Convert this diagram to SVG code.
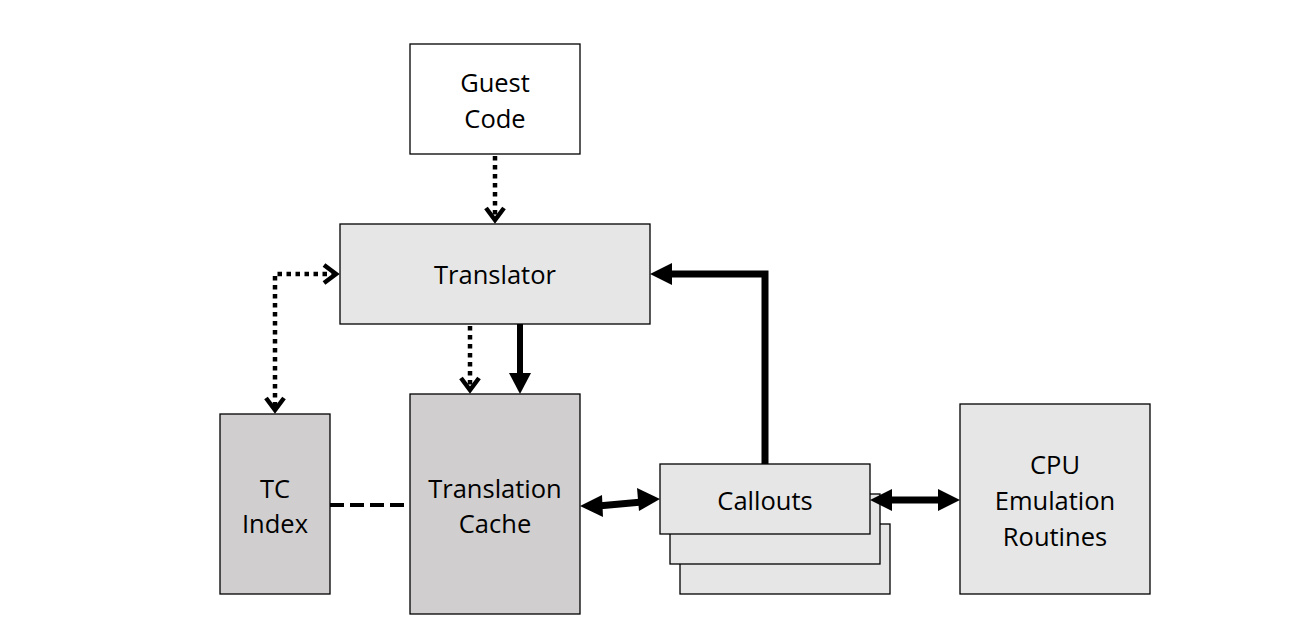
<svg xmlns="http://www.w3.org/2000/svg" width="1292" height="641" viewBox="0 0 1292 641">
<defs>
<style>
.box{stroke:#000;stroke-width:1.3}
.light{fill:#e6e6e6}
.dark{fill:#d0cece}
.white{fill:#fff}
.lbl{font-family:"Open Sans","Liberation Sans",sans-serif;font-size:25.5px;fill:#000;text-anchor:middle}
.dot{fill:none;stroke:#000;stroke-width:4.5;stroke-dasharray:4.5 4.5}
.vhead{fill:none;stroke:#000;stroke-width:4.5;stroke-linejoin:miter}
.thick{fill:none;stroke:#000;stroke-width:7}
.dash{fill:none;stroke:#000;stroke-width:4;stroke-dasharray:14 6}
</style>
</defs>
<rect width="1292" height="641" fill="#fff"/>
<g id="guest-code">
<rect class="box white" x="410" y="44" width="170" height="110"/>
<text class="lbl" x="495" y="92">Guest</text>
<text class="lbl" x="495" y="128">Code</text>
</g>
<g id="translator">
<rect class="box light" x="340" y="224" width="310" height="100"/>
<text class="lbl" x="495" y="284">Translator</text>
</g>
<g id="tc-index">
<rect class="box dark" x="220" y="414" width="110" height="180"/>
<text class="lbl" x="275" y="498">TC</text>
<text class="lbl" x="275" y="533">Index</text>
</g>
<g id="translation-cache">
<rect class="box dark" x="410" y="394" width="170" height="220"/>
<text class="lbl" x="495" y="498">Translation</text>
<text class="lbl" x="495" y="533">Cache</text>
</g>
<g id="callouts">
<rect class="box light" x="680" y="524" width="210" height="70"/>
<rect class="box light" x="670" y="494" width="210" height="70"/>
<rect class="box light" x="660" y="464" width="210" height="70"/>
<text class="lbl" x="765" y="510">Callouts</text>
</g>
<g id="cpu-emulation">
<rect class="box light" x="960" y="404" width="190" height="190"/>
<text class="lbl" x="1055" y="474">CPU</text>
<text class="lbl" x="1055" y="510">Emulation</text>
<text class="lbl" x="1055" y="546">Routines</text>
</g>
<g id="connectors">
<path class="dot" d="M495,156 V220"/>
<path class="vhead" d="M486,208 L495,220 L504,208"/>
<path class="dot" d="M336,274 H275 V410"/>
<path class="vhead" d="M324,265 L336,274 L324,283"/>
<path class="vhead" d="M266,398 L275,410 L284,398"/>
<path class="dot" d="M470,326 V390"/>
<path class="vhead" d="M461,378 L470,390 L479,378"/>
<path class="thick" style="stroke-width:6" d="M520,324 V376"/>
<path d="M509,373 L531,373 L520,394 Z" fill="#000"/>
<path class="thick" d="M765,464 V274 H668"/>
<path d="M650,274 L672,263 L672,285 Z" fill="#000"/>
<path class="thick" d="M598,506 L642,502"/>
<path d="M580,506 L602,495 L603,517 Z" fill="#000"/>
<path d="M660,499 L637,488 L639,511 Z" fill="#000"/>
<path class="thick" d="M890,500 H940"/>
<path d="M870,500 L892,489 L892,511 Z" fill="#000"/>
<path d="M960,500 L938,489 L938,511 Z" fill="#000"/>
<path class="dash" d="M330,505 H410"/>
</g>
</svg>
